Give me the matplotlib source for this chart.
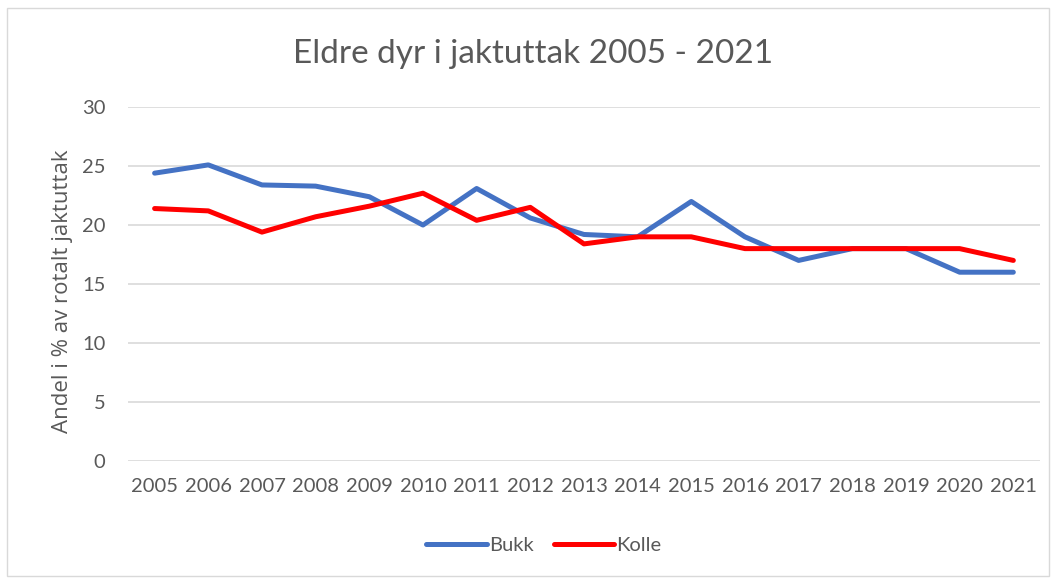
import matplotlib.pyplot as plt
from matplotlib.patches import Rectangle

years = [str(y) for y in range(2005, 2022)]
bukk = [24.4, 25.1, 23.4, 23.3, 22.4, 20.0, 23.1, 20.6, 19.2, 19.0, 22.0, 19.0, 17.0, 18.0, 18.0, 16.0, 16.0]
kolle = [21.4, 21.2, 19.4, 20.7, 21.6, 22.7, 20.4, 21.5, 18.4, 19.0, 19.0, 18.0, 18.0, 18.0, 18.0, 18.0, 17.0]

plt.rcParams["font.family"] = ["Lato", "DejaVu Sans"]
grey = "#595959"

fig = plt.figure(figsize=(10.56, 5.79), dpi=100)
ax = fig.add_axes([0.121, 0.204, 0.864, 0.611])

x = range(len(years))
ax.plot(x, bukk, color="#4472C4", lw=3.6, label="Bukk", solid_capstyle="round")
ax.plot(x, kolle, color="#FF0000", lw=3.6, label="Kolle", solid_capstyle="round")

ax.set_xlim(-0.5, len(years) - 0.5)
ax.set_ylim(0, 30)
ax.set_yticks(range(0, 31, 5))
ax.set_xticks(list(x))
ax.set_xticklabels(years)
ax.tick_params(length=0, labelsize=14.5, colors=grey, pad=12)
ax.tick_params(axis="y", pad=16)
ax.grid(axis="y", color="#D9D9D9", lw=1.2)
ax.set_axisbelow(True)
for s in ax.spines.values():
    s.set_visible(False)

ax.set_ylabel("Andel i % av rotalt jaktuttak", fontsize=16, color=grey,
              family=["Open Sans", "DejaVu Sans"])
ax.yaxis.set_label_coords(-0.06, 0.48)
fig.text(0.505, 0.907, "Eldre dyr i jaktuttak 2005 - 2021", ha="center", va="center",
         fontsize=24, color=grey)

fig.legend(loc="center", bbox_to_anchor=(0.515, 0.058), ncol=2, frameon=False,
           fontsize=14.5, labelcolor=grey, handlelength=3.0, handletextpad=0.1,
           columnspacing=1.0)

fig.patches.append(Rectangle((0.007, 0.005), 0.986, 0.982, transform=fig.transFigure,
                             fill=False, edgecolor="#D9D9D9", lw=1))

fig.savefig("out.png", dpi=100)
